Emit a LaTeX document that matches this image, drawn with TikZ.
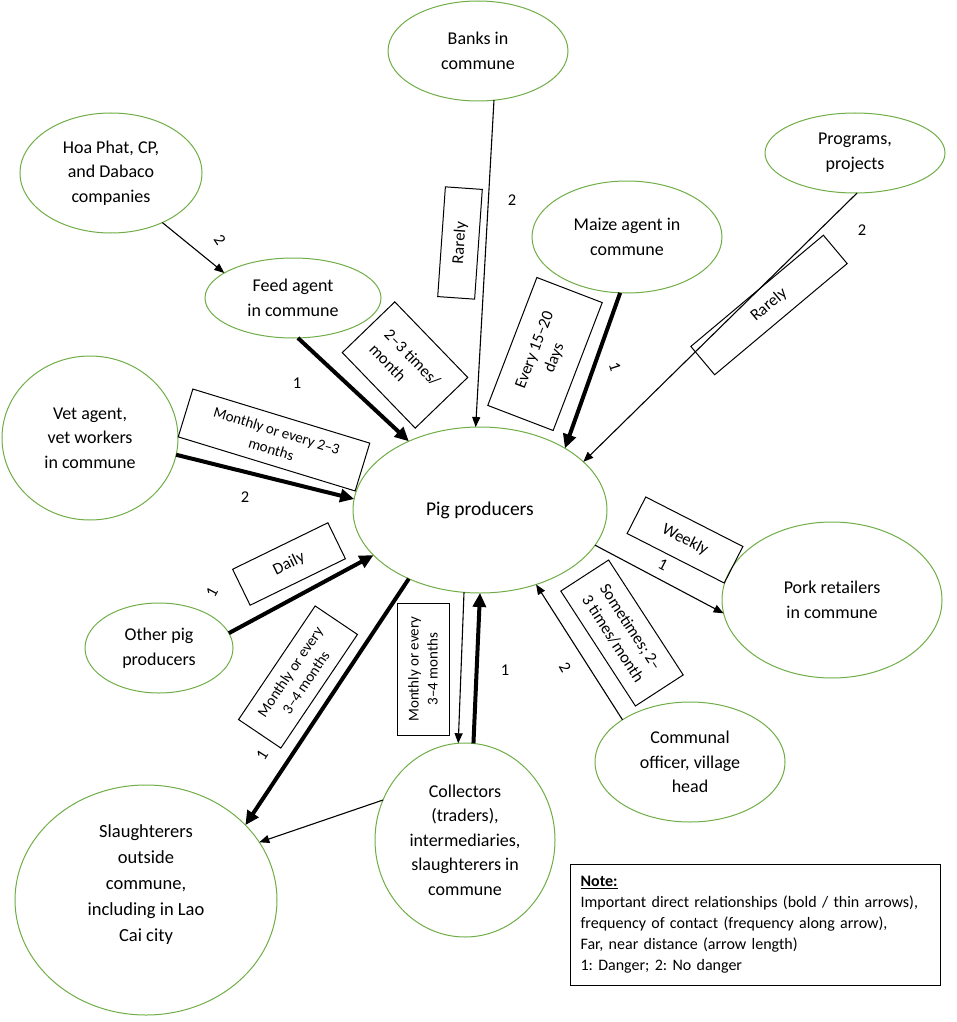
\documentclass[tikz,border=0pt]{standalone}
\usepackage{fontspec}
\setmainfont{Carlito}
\usetikzlibrary{shapes.geometric,arrows.meta}
\definecolor{ellgreen}{RGB}{112,173,71}
\frenchspacing
\begin{document}
\begin{tikzpicture}[x=1pt,y=-1pt,
  ell/.style={ellipse,draw=ellgreen,line width=1pt,inner sep=0pt,outer sep=0pt,align=center,font=\fontsize{18}{24.5}\selectfont},
  fbox/.style={draw=black,line width=1pt,inner sep=0pt,outer sep=0pt,align=center,font=\fontsize{16.5}{21}\selectfont},
  sbox/.style={fbox,font=\fontsize{15}{19}\selectfont},
  num/.style={inner sep=0pt,font=\fontsize{16.5}{18}\selectfont},
  thinarr/.style={line width=1.1pt,-{Triangle[length=10pt,width=8pt]}},
  boldarr/.style={line width=4pt,-{Triangle[length=14pt,width=13pt]}},
]
\useasboundingbox (0,0) rectangle (957,1022);

% ellipses
\node[ell,minimum width=180pt,minimum height=100pt] (banks) at (478,51) {Banks in\\commune};
\node[ell,minimum width=182pt,minimum height=120pt] (hoa) at (111,173) {Hoa Phat, CP,\\and Dabaco\\companies};
\node[ell,minimum width=176pt,minimum height=80pt] (feed) at (293,298) {Feed agent\\in commune};
\node[ell,minimum width=190pt,minimum height=112pt] (maize) at (627,237) {Maize agent in\\commune};
\node[ell,minimum width=180pt,minimum height=80pt] (prog) at (855,153) {Programs,\\projects};
\node[ell,minimum width=176pt,minimum height=164pt] (vet) at (90,438) {Vet agent,\\vet workers\\in commune};
\node[ell,minimum width=254pt,minimum height=166pt,font=\fontsize{19.5}{24}\selectfont] (pig) at (480,510) {Pig producers};
\node[ell,minimum width=148pt,minimum height=90pt] (other) at (159,648) {Other pig\\producers};
\node[ell,minimum width=220pt,minimum height=156pt] (pork) at (832,600) {Pork retailers\\in commune};
\node[ell,minimum width=190pt,minimum height=120pt] (comm) at (690,762) {Communal\\officer, village\\head};
\node[ell,minimum width=180pt,minimum height=194pt] (coll) at (465,840) {Collectors\\(traders),\\intermediaries,\\slaughterers in\\commune};
\node[ell,minimum width=262pt,minimum height=230pt,font=\fontsize{18.5}{26}\selectfont] (slau) at (146,900) {Slaughterers\\outside\\commune,\\including in Lao\\Cai city\\[8pt]};

% connectors
\draw[thinarr] (hoa.-44) -- (feed.160);
\draw[boldarr] (feed.-83) -- (pig.136);
\draw[thinarr] (banks.-72) -- (pig.93);
\draw[boldarr] (maize.-97) -- (pig.36);
\draw[thinarr] (prog.-87) -- (pig.25);
\draw[boldarr] (vet.-11) -- (pig.175);
\draw[boldarr] (other.12) -- (pig.-157);
\draw[boldarr] (pig.-136.5) -- (slau.37);
\draw[thinarr] (pig.-101) -- (coll.94);
\draw[boldarr] (coll.85) -- (pig.-90.7);
\draw[thinarr] (pig.-17.7) -- (pork.-173);
\draw[thinarr] (comm.148) -- (pig.-53);
\draw[thinarr] (coll.154) -- (slau.27.5);

% frequency boxes
\node[fbox,rotate=-46,minimum width=105pt,minimum height=73pt,align=left] (bfeed) at (405,365) {2--3 times/\\month};
\node[fbox,rotate=86,minimum width=110pt,minimum height=37pt] (bbanks) at (460,243) {Rarely};
\node[fbox,rotate=69,minimum width=137pt,minimum height=70pt] (bmaize) at (545,354) {Every 15--20\\days};
\node[fbox,rotate=40,minimum width=173pt,minimum height=37pt] (bprog) at (769,305) {Rarely};
\node[sbox,rotate=-17,minimum width=185pt,minimum height=50pt] (bvet) at (274,440) {Monthly or every 2--3\\months};
\node[fbox,rotate=26,minimum width=106pt,minimum height=40pt] (bother) at (289,564) {Daily};
\node[sbox,rotate=56,minimum width=137pt,minimum height=51pt] (bslau) at (298,677) {Monthly or every\\3--4 months};
\node[sbox,rotate=90,minimum width=132pt,minimum height=52pt] (bcoll) at (423,669) {Monthly or every\\3--4 months};
\node[fbox,rotate=-27,minimum width=109pt,minimum height=41pt] (bpork) at (685,540) {Weekly};
\node[fbox,rotate=-57,minimum width=137pt,minimum height=57pt] (bcomm) at (622,633) {Sometimes; 2--\\3 times/month};

% danger numbers
\node[num,rotate=-56] (nhoa) at (220,240) {2};
\node[num] (nfeed) at (297,383) {1};
\node[num] (nbanks) at (512,200) {2};
\node[num,rotate=-72] (nmaize) at (615,367) {1};
\node[num] (nprog) at (862,230) {2};
\node[num] (nvet) at (245,497) {2};
\node[num,rotate=62] (nother) at (212,592) {1};
\node[num,rotate=58] (nslau) at (262,755) {1};
\node[num] (ncoll) at (505,670) {1};
\node[num,rotate=-27] (npork) at (663,565) {1};
\node[num,rotate=-60] (ncomm) at (565,667) {2};

% note
\node[draw=black,line width=1.2pt,anchor=north west,minimum width=370pt,minimum height=121pt,
      text width=350pt,inner xsep=10pt,inner ysep=4pt,align=left,font=\fontsize{16}{21}\selectfont] (note) at (570,864)
  {\underline{\textbf{Note:}}\\Important direct relationships (bold / thin arrows),\\frequency of contact (frequency along arrow),\\Far, near distance (arrow length)\\1: Danger; 2: No danger};
\end{tikzpicture}
\end{document}
